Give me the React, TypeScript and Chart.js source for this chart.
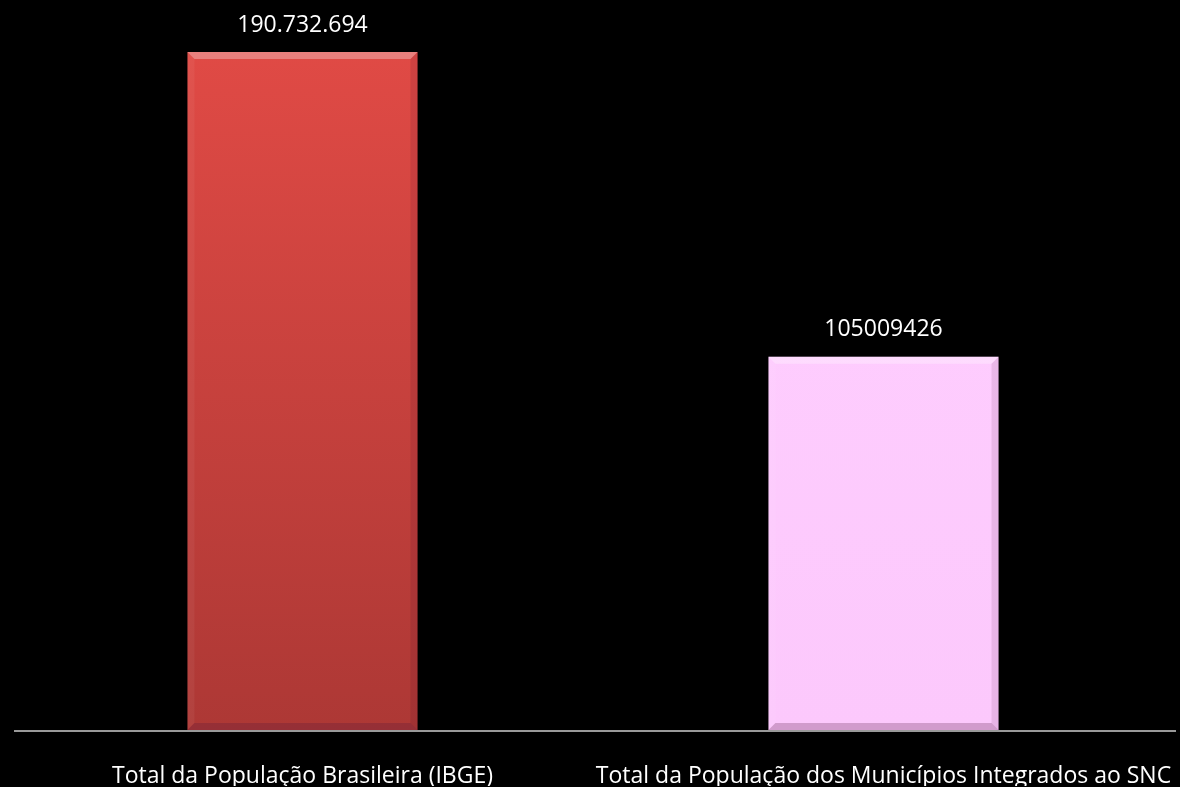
import React, { useEffect, useRef } from "react";
import { Chart, registerables } from "chart.js";

Chart.register(...registerables);

const categories = [
  "Total da População Brasileira (IBGE)",
  "Total da População dos Municípios Integrados ao SNC",
];
const values = [190732694, 105009426];
const valueLabels = ["190.732.694", "105009426"];
const barColors = [
  ["#e04a45", "#ad3835"],
  ["#ffcfff", "#fcc8fc"],
];

const FONT = "'Open Sans', 'Noto Sans', sans-serif";

const bevelPlugin = {
  id: "bevel",
  afterDatasetsDraw(chart: any) {
    const ctx = chart.ctx;
    const meta = chart.getDatasetMeta(0);
    // axis baseline
    const yb = chart.chartArea.bottom + 1;
    ctx.save();
    ctx.strokeStyle = "#999999";
    ctx.lineWidth = 2;
    ctx.beginPath();
    ctx.moveTo(14, yb);
    ctx.lineTo(1176, yb);
    ctx.stroke();
    ctx.restore();
    meta.data.forEach((bar: any, i: number) => {
      const { x, y, base, width } = bar.getProps(["x", "y", "base", "width"], true);
      const l = x - width / 2;
      const r = x + width / 2;
      const t = y;
      const b = base;
      const e = 7;
      ctx.save();
      ctx.fillStyle = "rgba(255,255,255,0.3)";
      ctx.beginPath();
      ctx.moveTo(l, t);
      ctx.lineTo(r, t);
      ctx.lineTo(r - e, t + e);
      ctx.lineTo(l + e, t + e);
      ctx.closePath();
      ctx.fill();
      ctx.fillStyle = "rgba(80,20,60,0.25)";
      ctx.beginPath();
      ctx.moveTo(l, b);
      ctx.lineTo(r, b);
      ctx.lineTo(r - e, b - e);
      ctx.lineTo(l + e, b - e);
      ctx.closePath();
      ctx.fill();
      ctx.fillStyle = "rgba(255,255,255,0.05)";
      ctx.beginPath();
      ctx.moveTo(l, t);
      ctx.lineTo(l + e, t + e);
      ctx.lineTo(l + e, b - e);
      ctx.lineTo(l, b);
      ctx.closePath();
      ctx.fill();
      ctx.fillStyle = "rgba(60,0,40,0.1)";
      ctx.beginPath();
      ctx.moveTo(r, t);
      ctx.lineTo(r - e, t + e);
      ctx.lineTo(r - e, b - e);
      ctx.lineTo(r, b);
      ctx.closePath();
      ctx.fill();
      ctx.fillStyle = "#ffffff";
      ctx.font = `23px ${FONT}`;
      ctx.textAlign = "center";
      ctx.textBaseline = "middle";
      ctx.fillText(valueLabels[i], x, t - 27);
      ctx.restore();
    });
  },
};

export default function App() {
  const ref = useRef<HTMLCanvasElement>(null);
  useEffect(() => {
    document.body.style.margin = "0";
    document.body.style.background = "#000";
    const canvas = ref.current!;
    const ctx = canvas.getContext("2d")!;
    const grads = barColors.map(([a, b]) => {
      const g = ctx.createLinearGradient(0, 52, 0, 730);
      g.addColorStop(0, a);
      g.addColorStop(1, b);
      return g;
    });
    const chart = new Chart(canvas, {
      type: "bar",
      data: {
        labels: categories,
        datasets: [
          {
            data: values,
            backgroundColor: grads,
            borderWidth: 0,
            categoryPercentage: 1,
            barPercentage: 0.396,
          },
        ],
      },
      options: {
        animation: false,
        responsive: false,
        maintainAspectRatio: false,
        layout: { padding: { left: 12, right: 6, top: 52, bottom: 1 } },
        plugins: { legend: { display: false }, tooltip: { enabled: false } },
        scales: {
          x: {
            grid: { display: false, drawTicks: false },
            border: { display: false },
            afterFit: (scale: any) => {
              scale.height = 56;
              scale.paddingLeft = 0;
              scale.paddingRight = 0;
            },
            ticks: {
              color: "#ffffff",
              padding: 33,
              maxRotation: 0,
              autoSkip: false,
              font: { family: FONT, size: 23 },
            },
          },
          y: {
            display: false,
            min: 0,
            max: values[0],
          },
        },
      },
      plugins: [bevelPlugin],
    });
    return () => chart.destroy();
  }, []);
  return (
    <div style={{ background: "#000", width: 1180, height: 787 }}>
      <canvas ref={ref} width={1180} height={787} style={{ display: "block" }} />
    </div>
  );
}
